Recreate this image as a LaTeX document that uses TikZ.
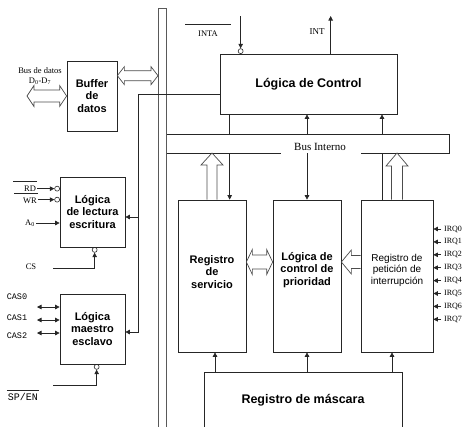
\documentclass[tikz,border=0pt]{standalone}
\usepackage{fontspec}
\setmainfont{Liberation Serif}
\setsansfont{Liberation Sans}
\setmonofont{Liberation Mono}
\usetikzlibrary{calc,arrows.meta}

\tikzset{
  caja/.style={draw=black!85, line width=0.7pt, inner sep=0pt},
  negrita/.style={align=center, font=\sffamily\bfseries\fontsize{11}{12.3}\selectfont},
  etq/.style={inner sep=1pt, font=\fontsize{8.5}{9}\selectfont},
  mono/.style={inner sep=1pt, font=\ttfamily\fontsize{8.5}{9}\selectfont},
  linea/.style={draw=black!85, line width=0.7pt},
  flecha/.style={linea, -{Triangle[length=4.5pt,width=4.5pt]}},
  dflecha/.style={linea, {Triangle[length=4.5pt,width=4.5pt]}-{Triangle[length=4.5pt,width=4.5pt]}},
  hueca/.style={draw=black!70, line width=0.7pt, line join=miter},
  burbuja/.style={circle, draw=black!85, line width=0.6pt, inner sep=0pt, minimum size=5pt},
}

% flechas huecas: punta, cola, largo cabeza, media cabeza, medio cuerpo
\newcommand{\huecaarriba}[5]{%
  \draw[hueca] ($(#2)+(-#5,0)$) -- ($(#1)+(-#5,#3)$) -- ++(#5-#4,0) -- (#1)
    -- ++(#4,#3) -- ++(#5-#4,0) -- ($(#2)+(#5,0)$);}
\newcommand{\huecaizq}[5]{%
  \draw[hueca] ($(#2)+(0,-#5)$) -- ($(#1)+(#3,-#5)$) -- ++(0,#5-#4) -- (#1)
    -- ++(#3,#4) -- ++(0,#5-#4) -- ($(#2)+(0,#5)$);}
\newcommand{\huecadoble}[5]{%
  \draw[hueca] (#1) -- ++(#3,-#4) -- ++(0,#4-#5) -- ($(#2)+(-#3,-#5)$) -- ++(0,#5-#4)
    -- (#2) -- ++(-#3,#4) -- ++(0,#5-#4) -- ($(#1)+(#3,#5)$) -- ++(0,#4-#5) -- cycle;}

\begin{document}
\begin{tikzpicture}[x=1pt, y=-1pt]
\useasboundingbox (0,0) rectangle (465,426);

% Bus del sistema
\coordinate (bi) at (158,8);
\coordinate (bd) at (166.5,8);
\draw[linea, draw=black!65] (158,432) -- (bi) -- (bd) -- (166.5,432);

% Bloques
\node[caja, negrita, minimum width=50pt, minimum height=70pt] (buf) at (92,96) {Buffer\\de\\datos};
\node[caja, negrita, minimum width=65pt, minimum height=70pt] (lec) at (92.5,212) {Lógica\\de lectura\\escritura};
\node[caja, negrita, minimum width=65pt, minimum height=70pt] (mae) at (92.5,329) {Lógica\\maestro\\esclavo};
\node[caja, negrita, font=\sffamily\bfseries\fontsize{12.5}{14}\selectfont,
      minimum width=177pt, minimum height=60pt] (lc) at (308.5,84) {Lógica de Control};
\node[caja, minimum width=68pt, minimum height=152pt] (rs) at (212,276) {};
\node[caja, minimum width=68pt, minimum height=152pt] (lcp) at (307,276) {};
\node[caja, minimum width=72pt, minimum height=152pt] (rpi) at (397,276) {};
\node[negrita] (rst) at ($(rs.center)+(0,-4)$) {Registro\\de\\servicio};
\node[negrita] (lcpt) at ($(lcp.center)+(0,-6)$) {Lógica de\\control de\\prioridad};
\node[align=center, font=\sffamily\fontsize{10}{11.5}\selectfont] (rpit) at ($(rpi.center)+(0,-6)$) {Registro de\\petición de\\interrupción};
\node[caja, font=\sffamily\bfseries\fontsize{12.5}{14}\selectfont,
      minimum width=198pt, minimum height=56pt] (masc) at (303,400) {Registro de máscara};

% Bus interno
\coordinate (bit) at (449,134);
\coordinate (bib) at (449,153);
\node[etq, font=\fontsize{11}{12}\selectfont] (bint) at (320,147) {Bus Interno};
\coordinate (g1) at (bint.east |- bib);
\coordinate (g2) at (bint.west |- bib);
\draw[linea] (bd |- bit) -- (bit) -- (bib) -- ($(g1)+(14,0)$);
\draw[linea] (bd |- bib) -- ($(g2)+(-12,0)$);

% Control - bus
\coordinate (cv) at (138,94);
\coordinate (ve1) at ($(lec.east)+(0,5)$);
\coordinate (ve2) at ($(mae.east)+(0,3)$);
\draw[linea] (cv -| lc.west) -- (cv);
\draw[flecha] (cv) |- (ve1);
\draw[flecha] (cv) |- (ve2);

% Datos
\coordinate (bb) at ($(buf.north east)+(0,15)$);
\coordinate (bb2) at (bi |- bb);
\huecadoble{bb}{bb2}{7}{9}{5}
\coordinate (dd) at (27,96);
\huecadoble{dd}{buf.west}{7}{10.5}{6}
\node[etq] (bdat) at (40,71) {Bus de datos};
\node[etq] (dlab) at (40,81) {D\textsubscript{0}-D\textsubscript{7}};

% INTA e INT
\coordinate (tope) at (0,16);
\node[burbuja] (binta) at ($(lc.north west)+(21,-2.5)$) {};
\draw[flecha] (binta |- tope) -- (binta.north);
\node[etq] (inta) at (208,34) {INTA};
\draw[linea] ($(inta.north)+(-23,-6)$) -- ++(46,0);
\coordinate (int0) at ($(lc.north west)+(111,0)$);
\draw[flecha] (int0) -- (int0 |- tope);
\node[etq, font=\fontsize{9}{10}\selectfont] (int) at (317,32) {INT};

% Control - bus interno - registros
\coordinate (xa) at ($(lc.south west)+(10,0)$);
\draw[linea] (xa) -- (xa |- bit);
\draw[flecha] (xa |- bib) -- (xa |- rs.north);
\draw[flecha] (lcp.north |- bit) -- (lcp.north |- lc.south);
\draw[flecha] (lcp.north |- bib) -- (lcp.north);
\coordinate (xc) at ($(rpi.north)+(-15,0)$);
\draw[flecha] (xc |- bit) -- (xc |- lc.south);
\draw[linea] (xc) -- (xc |- bib);
\coordinate (h1) at (rs.north |- bib);
\huecaarriba{h1}{rs.north}{12}{11}{5}
\coordinate (h2) at (rpi.north |- bib);
\huecaarriba{h2}{rpi.north}{13}{11}{5.5}

% Entre registros
\coordinate (d1) at ($(rs.east)+(0,-14)$);
\coordinate (d2) at (lcp.west |- d1);
\huecadoble{d1}{d2}{6}{12.5}{7}
\coordinate (d3) at (lcp.east |- d1);
\coordinate (d4) at (rpi.west |- d1);
\huecaizq{d3}{d4}{10}{12}{6.5}

% Mascara
\coordinate (m1) at ($(rs.south)+(3,0)$);
\draw[flecha] (m1 |- masc.north) -- (m1);
\draw[flecha] (lcp.south |- masc.north) -- (lcp.south);
\coordinate (m3) at ($(rpi.south)+(-5,0)$);
\draw[flecha] (m3 |- masc.north) -- (m3);

% Peticiones de interrupcion
\foreach \i in {0,...,7} {
  \coordinate (ir\i) at (441,{229+12.9*\i});
  \draw[flecha] (ir\i) -- (ir\i -| rpi.east);
  \node[etq, anchor=west, font=\fontsize{8}{9}\selectfont] (lir\i) at ($(ir\i)+(2,0)$) {IRQ\i};
}

% Lectura / escritura
\node[etq] (rd) at (30,189) {RD};
\draw[linea] ($(rd.north east)+(0,-4)$) -- ++(-24,0);
\node[burbuja] (brd) at ($(lec.north west)+(-2.5,12)$) {};
\draw[flecha] (rd.east |- brd) -- (brd.west);
\node[etq] (wr) at (30,201) {WR};
\draw[linea] ($(wr.north east)+(0,-4)$) -- ++(-24,0);
\node[burbuja] (bwr) at ($(lec.north west)+(-2.5,23)$) {};
\draw[flecha] (wr.east |- bwr) -- (bwr.west);
\node[etq] (a0) at (30,223) {A\textsubscript{0}};
\draw[flecha] (a0.east) -- (a0.east -| lec.west);
\node[etq] (cs) at (31,267) {CS};
\node[burbuja] (bcs) at ($(lec.south west)+(35,2.5)$) {};
\coordinate (cs0) at (53,268);
\draw[flecha] (cs0) -| (bcs.south);

% Cascada
\foreach \n/\y/\ly in {0/307/297, 1/320/318, 2/333/336} {
  \coordinate (cas\n) at (37,\y);
  \draw[dflecha] (cas\n) -- (cas\n -| mae.west);
  \node[mono] (lcas\n) at (17,\ly) {CAS\n};
}
\node[mono, font=\ttfamily\fontsize{10}{11}\selectfont] (sp) at (23,397) {SP/EN};
\draw[linea] ($(sp.north west)+(0,-2)$) -- ($(sp.north east)+(0,-2)$);
\node[burbuja] (bsp) at ($(mae.south west)+(37,2.5)$) {};
\coordinate (sp0) at (53,385);
\draw[flecha] (sp0) -| (bsp.south);

\end{tikzpicture}
\end{document}
